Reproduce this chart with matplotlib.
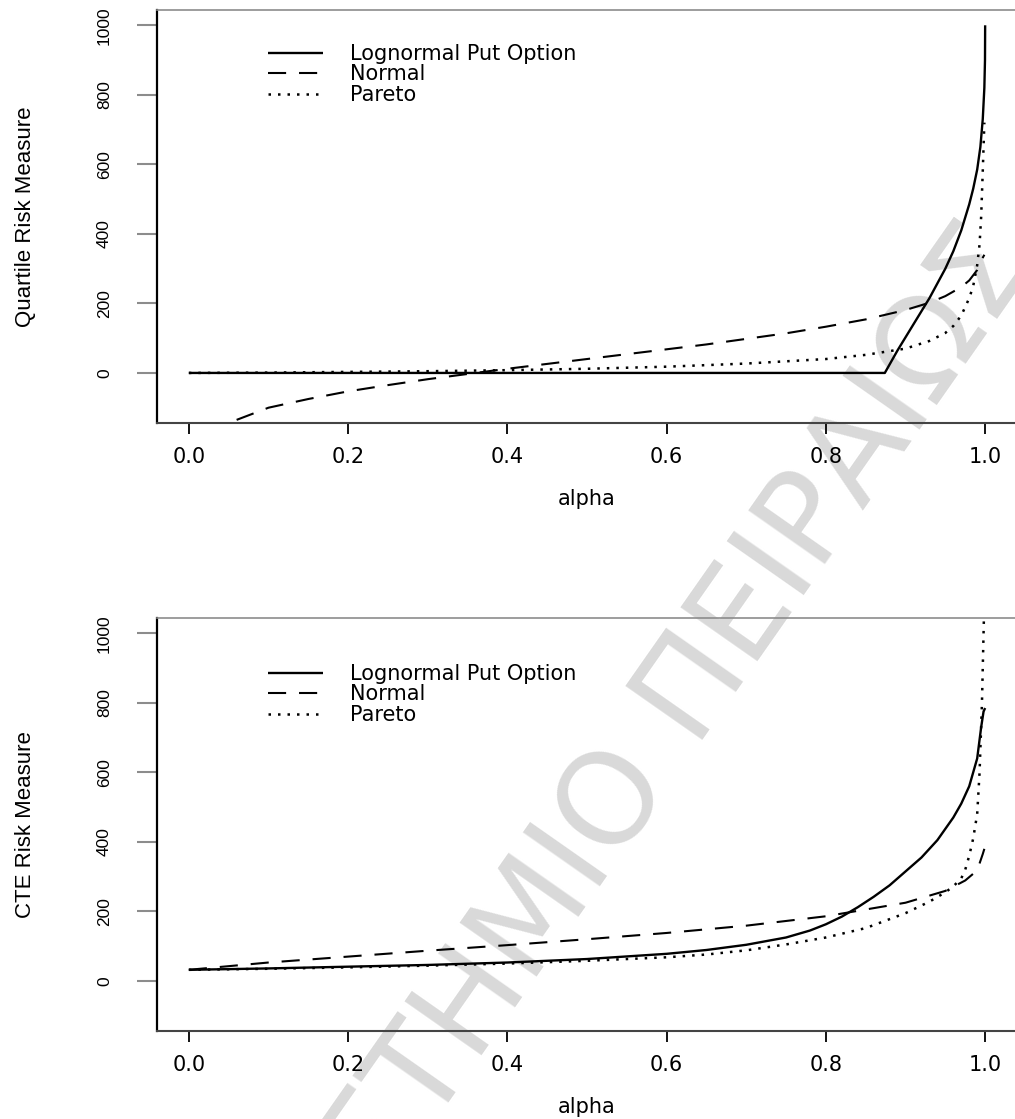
import matplotlib
matplotlib.use('Agg')
import matplotlib.pyplot as plt

# quantile risk measure (top panel)
q_alpha_logn = [0.0, 0.874, 0.89, 0.91, 0.93, 0.95, 0.96, 0.97, 0.98, 0.985,
                0.99, 0.994, 0.997, 0.999, 0.9998, 1.0]
q_logn = [0, 0, 65, 140, 215, 300, 350, 410, 485, 530, 585, 650, 730, 820,
          900, 1000]

q_alpha_norm = [0.06, 0.1, 0.15, 0.2, 0.25, 0.3, 0.35, 0.4, 0.45, 0.5, 0.55,
                0.6, 0.65, 0.7, 0.75, 0.8, 0.85, 0.9, 0.93, 0.95, 0.97, 0.98,
                0.99, 0.995, 0.999]
q_norm = [-135, -100, -75, -53, -35, -18, -3, 12, 26, 40, 54, 68, 82, 98, 114,
          133, 154, 181, 202, 221, 247, 266, 296, 323, 340]

q_alpha_par = [0.0, 0.1, 0.2, 0.3, 0.4, 0.5, 0.6, 0.7, 0.8, 0.85, 0.9, 0.93,
               0.95, 0.96, 0.97, 0.98, 0.985, 0.99, 0.993, 0.995, 0.997, 0.999]
q_par = [0, 1, 3, 5, 8, 12, 18, 27, 40, 52, 70, 92, 115, 135, 165, 215, 250,
         310, 370, 450, 580, 720]

# CTE risk measure (bottom panel)
c_alpha_logn = [0.0, 0.1, 0.2, 0.3, 0.4, 0.5, 0.6, 0.65, 0.7, 0.75, 0.78, 0.8,
                0.82, 0.84, 0.86, 0.88, 0.9, 0.92, 0.94, 0.96, 0.97, 0.98,
                0.99, 0.995, 0.998, 1.0]
c_logn = [32, 36, 41, 46, 53, 63, 78, 89, 104, 125, 145, 163, 185, 212, 242,
          275, 315, 355, 405, 470, 510, 560, 640, 730, 775, 785]

c_alpha_norm = [0.0, 0.1, 0.2, 0.3, 0.4, 0.5, 0.6, 0.7, 0.8, 0.9, 0.95, 0.975,
                0.99, 0.997, 0.999]
c_norm = [32, 53, 70, 87, 103, 120, 138, 159, 186, 225, 259, 289, 318, 365, 380]

c_alpha_par = [0.0, 0.1, 0.2, 0.3, 0.4, 0.5, 0.6, 0.65, 0.7, 0.75, 0.8, 0.85,
               0.9, 0.93, 0.95, 0.96, 0.97, 0.975, 0.98, 0.985, 0.99, 0.993,
               0.996, 0.999]
c_par = [32, 35, 39, 44, 50, 58, 68, 76, 88, 105, 125, 152, 195, 228, 255, 272,
         295, 320, 360, 410, 480, 600, 800, 1100]

labels = ['Lognormal Put Option', 'Normal', 'Pareto']
x_ticks = [0.0, 0.2, 0.4, 0.6, 0.8, 1.0]
y_ticks = [0, 200, 400, 600, 800, 1000]

NARROW = ['Liberation Sans', 'DejaVu Sans']
WIDE = ['DejaVu Sans']

DASHED = (0, (8.7, 6.2))
DOTTED = (0, (1.0, 2.8))


def style_axes(ax, ylabel):
    ax.set_facecolor('none')
    ax.set_xlim(-0.04, 1.04)
    ax.set_ylim(-144, 1044)
    ax.set_xticks(x_ticks)
    ax.set_xticklabels(['%.1f' % t for t in x_ticks], family=WIDE, fontsize=15)
    ax.set_yticks(y_ticks)
    ax.set_yticklabels([str(t) for t in y_ticks], family=NARROW, fontsize=12.5,
                       rotation=90, va='center')
    ax.tick_params(axis='x', length=8, width=1.3, pad=9, color='black')
    ax.tick_params(axis='y', length=14.4, width=1.5, pad=18, color='#8c8c8c')
    ax.spines['left'].set_linewidth(1.6)
    ax.spines['left'].set_color('black')
    ax.spines['bottom'].set_linewidth(1.5)
    ax.spines['bottom'].set_color('#444444')
    ax.spines['top'].set_linewidth(1.2)
    ax.spines['top'].set_color('#8c8c8c')
    ax.set_ylabel(ylabel, family=NARROW, fontsize=16)
    ax.yaxis.set_label_coords(-0.141, 0.5)
    ax.set_xlabel('alpha', family=WIDE, fontsize=15)
    ax.xaxis.set_label_coords(0.5, -0.16)


def plot_panel(ax, series, ylabel, legend_y):
    styles = [('-', 1.7), (DASHED, 1.5), (DOTTED, 1.8)]
    for (a, v), lab, (ls, lw) in zip(series, labels, styles):
        ax.plot(a, v, color='black', linestyle=ls, linewidth=lw, label=lab,
                solid_capstyle='butt', dash_capstyle='butt')
    style_axes(ax, ylabel)
    ax.legend(loc='upper left', bbox_to_anchor=(0.129, legend_y), frameon=False,
              prop={'family': WIDE, 'size': 15}, handlelength=2.65,
              handletextpad=1.3, labelspacing=0.03, borderpad=0,
              borderaxespad=0)


fig = plt.figure(figsize=(10.15, 11.19), dpi=100)
fig.patch.set_facecolor('white')
ax_top = fig.add_axes([157/1015, 1 - 423/1119, 860/1015, 413/1119])
ax_bot = fig.add_axes([157/1015, 1 - 1031/1119, 860/1015, 413/1119])

plot_panel(ax_top, [(q_alpha_logn, q_logn), (q_alpha_norm, q_norm),
                    (q_alpha_par, q_par)], 'Quartile Risk Measure', 0.918)
plot_panel(ax_bot, [(c_alpha_logn, c_logn), (c_alpha_norm, c_norm),
                    (c_alpha_par, c_par)], 'CTE Risk Measure', 0.889)

# watermark of the source document
fig.text(540/1015, 1 - 910/1119, 'ΠΑΝΕΠΙΣΤΗΜΙΟ ΠΕΙΡΑΙΩΣ', rotation=55,
         rotation_mode='anchor', ha='center', va='center', fontsize=92,
         family='DejaVu Sans', color='#d9d9d9', zorder=-1)

fig.savefig('out.png', dpi=100)
plt.close(fig)
